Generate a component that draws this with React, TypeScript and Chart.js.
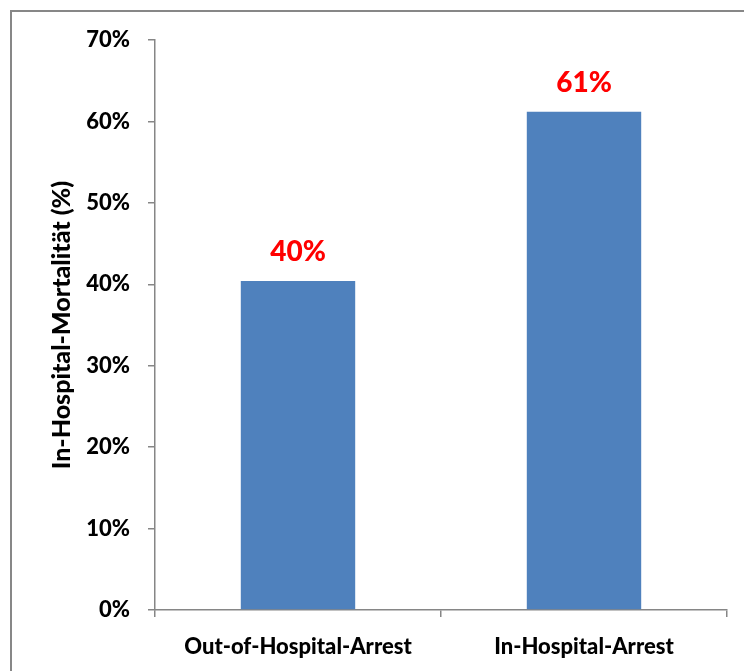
import React, { useEffect, useRef } from "react";
import { Chart, registerables } from "chart.js";

Chart.register(...registerables);

const categories = ["Out-of-Hospital-Arrest", "In-Hospital-Arrest"];
const mortality = [40.4, 61.2];
const yTicks = [0, 10, 20, 30, 40, 50, 60, 70];

const FONT = "Lato, 'Noto Sans', sans-serif";
const WEIGHT = "900";
const AXIS_GRAY = "#868686";

// White background plus the grey frame along the top and left edges
const framePlugin = {
  id: "frame",
  beforeDraw(chart: Chart) {
    const { ctx, width, height } = chart;
    ctx.save();
    ctx.fillStyle = "#ffffff";
    ctx.fillRect(0, 0, width, height);
    ctx.strokeStyle = "#878787";
    ctx.lineWidth = 2;
    ctx.beginPath();
    ctx.moveTo(11, height);
    ctx.lineTo(11, 11);
    ctx.lineTo(width, 11);
    ctx.stroke();
    ctx.restore();
  },
};

// Red percentage labels above each bar
const valueLabelPlugin = {
  id: "valueLabels",
  afterDatasetsDraw(chart: Chart) {
    const { ctx } = chart;
    const meta = chart.getDatasetMeta(0);
    ctx.save();
    ctx.fillStyle = "#ff0000";
    ctx.font = `${WEIGHT} 28px ${FONT}`;
    ctx.textAlign = "center";
    ctx.textBaseline = "alphabetic";
    meta.data.forEach((bar: any, i: number) => {
      const v = mortality[i];
      ctx.fillText(`${Math.round(v)}%`, bar.x, bar.y - 20);
    });
    ctx.restore();
  },
};

export default function App() {
  const canvasRef = useRef<HTMLCanvasElement | null>(null);

  useEffect(() => {
    if (!canvasRef.current) return;
    const chart = new Chart(canvasRef.current, {
      type: "bar",
      data: {
        labels: categories,
        datasets: [
          {
            data: mortality,
            backgroundColor: "#4f81bd",
            borderWidth: 0,
            barPercentage: 0.4,
            categoryPercentage: 1.0,
          },
        ],
      },
      options: {
        responsive: false,
        animation: false,
        devicePixelRatio: 1,
        layout: { padding: { left: 40, top: 40, right: 17, bottom: 0 } },
        plugins: {
          legend: { display: false },
          tooltip: { enabled: false },
        },
        scales: {
          x: {
            afterFit(scale: any) {
              scale.height = 61;
            },
            grid: {
              offset: true,
              drawOnChartArea: false,
              drawTicks: true,
              tickLength: 7,
              color: AXIS_GRAY,
              lineWidth: 1.5,
            },
            border: { color: AXIS_GRAY, width: 1.5 },
            ticks: {
              color: "#000000",
              font: { family: FONT, size: 22, weight: WEIGHT },
              padding: 17,
              maxRotation: 0,
              autoSkip: false,
            },
          },
          y: {
            min: 0,
            max: 70,
            afterFit(scale: any) {
              scale.width = 115;
            },
            afterBuildTicks(scale: any) {
              scale.ticks = yTicks.map((v) => ({ value: v }));
            },
            grid: {
              drawOnChartArea: false,
              drawTicks: true,
              tickLength: 7,
              color: AXIS_GRAY,
              lineWidth: 1.5,
            },
            border: { color: AXIS_GRAY, width: 1.5 },
            ticks: {
              color: "#000000",
              font: { family: FONT, size: 22, weight: WEIGHT },
              padding: 18,
              callback: (v: any) => `${v}%`,
            },
            title: {
              display: true,
              text: "In-Hospital-Mortalität (%)",
              color: "#000000",
              font: { family: FONT, size: 25, weight: WEIGHT },
              padding: { top: 7, bottom: 0 },
            },
          },
        },
      },
      plugins: [framePlugin, valueLabelPlugin],
    });
    return () => chart.destroy();
  }, []);

  return (
    <div style={{ position: "absolute", left: 0, top: 0, width: 744, height: 671 }}>
      <canvas ref={canvasRef} width={744} height={671} />
    </div>
  );
}
